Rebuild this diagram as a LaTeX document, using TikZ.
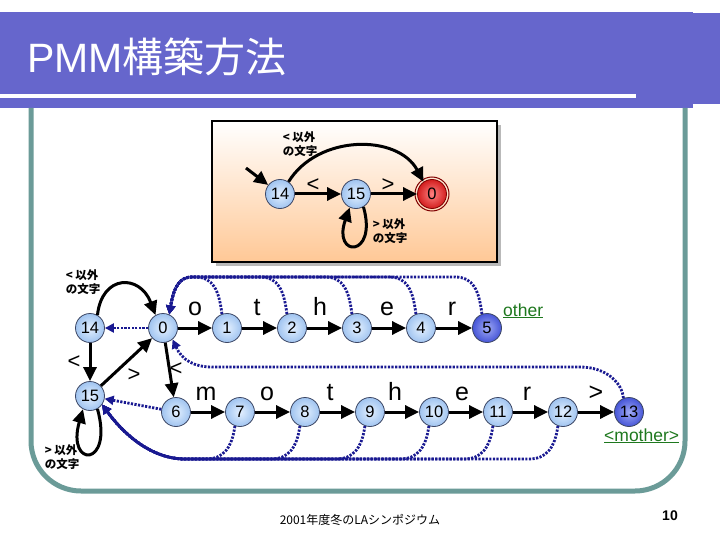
\documentclass[tikz,border=0pt]{standalone}
\usepackage{fontspec}
\setmainfont{Liberation Sans}
\newfontfamily\jp{Noto Sans CJK JP}
\usetikzlibrary{arrows.meta}
\definecolor{barc}{RGB}{102,102,204}
\definecolor{framec}{RGB}{107,155,152}
\definecolor{dotc}{RGB}{25,25,145}
\definecolor{grn}{RGB}{30,120,30}
\definecolor{nin}{RGB}{228,240,255}
\definecolor{nout}{RGB}{160,196,240}
\definecolor{nbd}{RGB}{60,70,100}
\definecolor{din}{RGB}{160,170,245}
\definecolor{dout}{RGB}{70,85,215}
\definecolor{rin}{RGB}{255,130,130}
\definecolor{rout}{RGB}{210,30,30}
\definecolor{peach}{RGB}{255,200,150}
\tikzset{
  st/.style={circle, minimum size=29pt, inner sep=0pt, draw=nbd, line width=0.8pt,
    inner color=nin, outer color=nout, font=\fontsize{16.5}{16.5}\selectfont},
  std/.style={st, inner color=din, outer color=dout},
  str/.style={st, inner color=rin, outer color=rout, draw=red!50!black},
  arr/.style={line width=3pt, -{Triangle[length=14pt,width=13pt]}},
  fb/.style={line width=2.8pt, draw=dotc, dash pattern=on 2.2pt off 1.4pt,
    -{Triangle[length=9pt,width=9pt]}},
  lbl/.style={font=\fontsize{25}{25}\selectfont, inner sep=0pt},
  cjkl/.style={font=\jp\bfseries\fontsize{11.5}{14.5}\selectfont, align=left, inner sep=0pt},
  gtxt/.style={text=grn, font=\fontsize{17.5}{18}\selectfont, inner sep=0pt, anchor=base west}
}
\begin{document}
\begin{tikzpicture}[x=1pt,y=-1pt]
\useasboundingbox (0,0) rectangle (720,540);
\fill[white] (0,0) rectangle (720,540);
% title bar
\fill[barc] (0,12) rectangle (693,108);
\fill[barc] (693,13) rectangle (720,104);
\fill[white] (0,94) rectangle (636,98);
\node[anchor=base west, text=white, inner sep=0pt] (title) at (27,73)
  {\fontsize{41}{41}\selectfont PMM{\jp 構築方法}};
% frame
\draw[framec, line width=5pt, rounded corners=50pt] (31,108) -- (31,491) -- (685,491) -- (685,108);
% top box
\fill[gray!55] (216,125) rectangle (501,266);
\shade[top color=white, bottom color=peach] (212,121) rectangle (497,262);
\draw[black, line width=1.5pt] (212,121) rectangle (497,262);
\node[st] (t14) at (280,194) {14};
\node[st] (t15) at (356,194) {15};
\node[str] (t0) at (432,194) {0};
\draw[red!50!black, line width=1pt] (t0) circle (17pt);
\coordinate (tstart) at (246,168);
\draw[arr] (tstart) -- (t14);
\draw[arr] (t14) -- (t15);
\draw[arr] (t15) -- (t0);
\draw[arr] (t14.55) .. controls (318,134) and (398,134) .. (t0.125);
\draw[arr] (t15.-60) .. controls (378,258) and (332,258) .. (t15.-115);
\node[lbl, font=\fontsize{22}{22}\selectfont] (tlt) at (313,185) {<};
\node[lbl, font=\fontsize{22}{22}\selectfont] (tgt) at (388,185) {>};
\node[cjkl] (tl1) at (300,144) {< 以外\\の文字};
\node[cjkl] (tl2) at (390,231) {> 以外\\の文字};
% main graph nodes
\node[st] (n14) at (90,328) {14};
\node[st] (n0) at (163,328) {0};
\node[st] (n1) at (227,328) {1};
\node[st] (n2) at (292,328) {2};
\node[st] (n3) at (357,328) {3};
\node[st] (n4) at (421,328) {4};
\node[std] (n5) at (487,328) {5};
\node[st] (n15) at (90,396) {15};
\node[st] (n6) at (176,412) {6};
\node[st] (n7) at (240,412) {7};
\node[st] (n8) at (305,412) {8};
\node[st] (n9) at (370,412) {9};
\node[st] (n10) at (434,412) {10};
\node[st] (n11) at (498,412) {11};
\node[st] (n12) at (563,412) {12};
\node[std] (n13) at (629,412) {13};
% solid edges
\draw[arr] (n14.60) .. controls (102,274) and (140,274) .. (n0.120);
\draw[arr] (n14) -- (n15);
\draw[arr] (n15) -- (n0);
\draw[arr] (n0) -- (n6);
\draw[arr] (n15.-60) .. controls (114,468) and (66,468) .. (n15.-118);
\draw[arr] (n0) -- (n1);
\draw[arr] (n1) -- (n2);
\draw[arr] (n2) -- (n3);
\draw[arr] (n3) -- (n4);
\draw[arr] (n4) -- (n5);
\draw[arr] (n6) -- (n7);
\draw[arr] (n7) -- (n8);
\draw[arr] (n8) -- (n9);
\draw[arr] (n9) -- (n10);
\draw[arr] (n10) -- (n11);
\draw[arr] (n11) -- (n12);
\draw[arr] (n12) -- (n13);
% failure edges
\draw[fb] (n0) -- (n14);
\draw[fb] (n6) -- (n15);
\foreach \k/\x in {1/227,2/292,3/357,4/421,5/487}{
  \draw[fb] (n\k.110) .. controls (\x-8,290) and (\x-14,277) .. (\x-32,277)
     -- (192,277) .. controls (180,277) and (174,286) .. (n0.65);
}
\foreach \k/\x in {7/240,8/305,9/370,10/434,11/498,12/563}{
  \draw[fb] (n\k.-110) .. controls (\x-8,447) and (\x-16,459) .. (\x-34,459)
     -- (185,459) .. controls (150,459) and (122,432) .. (n15.-35);
}
\draw[fb] (n13.112) .. controls (622,382) and (605,367) .. (580,367)
   -- (212,367) .. controls (194,367) and (182,360) .. (n0.-50);
% edge labels
\node[lbl, anchor=base] (lo) at (195,315) {o};
\node[lbl, anchor=base] (lt) at (257,315) {t};
\node[lbl, anchor=base] (lh) at (320,315) {h};
\node[lbl, anchor=base] (le) at (387,315) {e};
\node[lbl, anchor=base] (lr) at (452,315) {r};
\node[lbl, anchor=base] (lm) at (206,400) {m};
\node[lbl, anchor=base] (lo2) at (267,400) {o};
\node[lbl, anchor=base] (lt2) at (330,400) {t};
\node[lbl, anchor=base] (lh2) at (395,400) {h};
\node[lbl, anchor=base] (le2) at (462,400) {e};
\node[lbl, anchor=base] (lr2) at (527,400) {r};
\node[lbl, anchor=base] (lgt2) at (596,400) {>};
\node[lbl, font=\fontsize{22}{22}\selectfont] (llt1) at (74,362) {<};
\node[lbl, font=\fontsize{22}{22}\selectfont] (lgt1) at (134,375) {>};
\node[lbl, font=\fontsize{22}{22}\selectfont] (llt2) at (176,369) {<};
\node[cjkl] (ml1) at (83,282) {< 以外\\の文字};
\node[cjkl] (ml2) at (62,457) {> 以外\\の文字};
\node[gtxt] (oth) at (503,316) {\underline{other}};
\node[gtxt] (moth) at (604,441) {\underline{<mother>}};
% footer
\node[font=\jp\fontsize{12}{12}\selectfont, inner sep=0pt] (foot) at (360,520) {2001年度冬のLAシンポジウム};
\node[font=\bfseries\fontsize{14}{14}\selectfont, inner sep=0pt] (pg) at (670,516) {10};
\end{tikzpicture}
\end{document}
